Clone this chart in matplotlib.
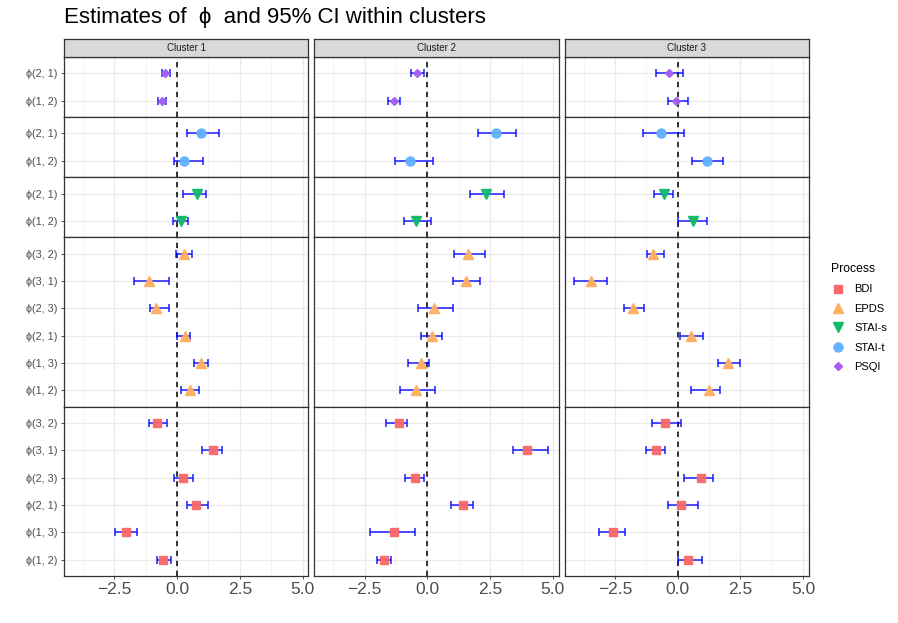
import matplotlib
matplotlib.use("Agg")
import matplotlib.pyplot as plt
from matplotlib.lines import Line2D

plt.rcParams['font.family'] = ['Liberation Sans', 'DejaVu Sans']

# ---- data ----
clusters = ["Cluster 1", "Cluster 2", "Cluster 3"]
labels_2 = ["ϕ(1, 2)", "ϕ(2, 1)"]
labels_6 = ["ϕ(1, 2)", "ϕ(1, 3)", "ϕ(2, 1)", "ϕ(2, 3)", "ϕ(3, 1)", "ϕ(3, 2)"]

# one list per cluster, in label order (bottom to top)
psqi_est = [[-0.59, -0.48], [-1.33, -0.41], [-0.05, -0.35]]
psqi_lo = [[-0.76, -0.60], [-1.56, -0.67], [-0.39, -0.87]]
psqi_hi = [[-0.43, -0.28], [-1.07, -0.13], [0.40, 0.20]]

stait_est = [[0.27, 0.97], [-0.68, 2.72], [1.16, -0.65]]
stait_lo = [[-0.11, 0.41], [-1.27, 2.00], [0.57, -1.40]]
stait_hi = [[1.03, 1.69], [0.24, 3.52], [1.79, 0.27]]

stais_est = [[0.16, 0.81], [-0.45, 2.32], [0.60, -0.55]]
stais_lo = [[-0.16, 0.25], [-0.92, 1.68], [0.03, -0.96]]
stais_hi = [[0.44, 1.16], [0.15, 3.04], [1.16, -0.17]]

epds_est = [[0.51, 0.97, 0.31, -0.83, -1.12, 0.28],
            [-0.44, -0.27, 0.17, 0.27, 1.55, 1.63],
            [1.25, 2.01, 0.55, -1.77, -3.47, -0.97]]
epds_lo = [[0.15, 0.69, 0.00, -1.07, -1.73, -0.04],
           [-1.08, -0.76, -0.25, -0.36, 1.04, 1.05],
           [0.55, 1.60, 0.11, -2.15, -4.11, -1.24]]
epds_hi = [[0.87, 1.23, 0.53, -0.33, -0.33, 0.61],
           [0.32, 0.08, 0.57, 1.01, 2.09, 2.29],
           [1.67, 2.47, 1.01, -1.36, -2.83, -0.55]]

bdi_est = [[-0.55, -2.05, 0.77, 0.23, 1.45, -0.81],
           [-1.72, -1.31, 1.41, -0.51, 3.96, -1.11],
           [0.43, -2.59, 0.13, 0.91, -0.87, -0.52]]
bdi_lo = [[-0.80, -2.48, 0.41, -0.12, 1.00, -1.12],
          [-2.00, -2.29, 0.95, -0.88, 3.43, -1.64],
          [0.03, -3.15, -0.40, 0.24, -1.27, -1.04]]
bdi_hi = [[-0.23, -1.60, 1.23, 0.64, 1.80, -0.40],
          [-1.45, -0.51, 1.80, -0.15, 4.81, -0.79],
          [0.96, -2.08, 0.79, 1.41, -0.52, 0.13]]

# rows top to bottom
rows = [
    ("PSQI", labels_2, psqi_est, psqi_lo, psqi_hi, "D", "#A65EF2", 4.5),
    ("STAI-t", labels_2, stait_est, stait_lo, stait_hi, "o", "#61B2FF", 6.5),
    ("STAI-s", labels_2, stais_est, stais_lo, stais_hi, "v", "#0FBA68", 7.5),
    ("EPDS", labels_6, epds_est, epds_lo, epds_hi, "^", "#FDAE61", 7.5),
    ("BDI", labels_6, bdi_est, bdi_lo, bdi_hi, "s", "#F96868", 6),
]
legend_order = ["BDI", "EPDS", "STAI-s", "STAI-t", "PSQI"]

W, H = 898, 623
fig = plt.figure(figsize=(W / 100, H / 100), dpi=100)
gs = fig.add_gridspec(5, 3, left=64 / W, right=809 / W, top=1 - 57 / H, bottom=1 - 576 / H,
                      hspace=0, wspace=6 / 244.3,
                      height_ratios=[len(r[1]) + 0.2 for r in rows])

grey_txt = "#4D4D4D"
border = "#333333"
axes = {}
for r, (name, labs, est, lo, hi, mk, col, ms) in enumerate(rows):
    y = list(range(len(labs)))
    for c in range(3):
        ax = fig.add_subplot(gs[r, c])
        axes[(r, c)] = ax
        ax.set_xlim(-4.5, 5.23)
        ax.set_ylim(-0.6, len(labs) - 0.4)
        ax.set_xticks([-2.5, 0, 2.5, 5.0])
        ax.set_xticks([-3.75, -1.25, 1.25, 3.75], minor=True)
        ax.set_xticklabels(["\u22122.5", "0.0", "2.5", "5.0"])
        ax.set_yticks(y)
        ax.set_yticklabels(labs)
        ax.grid(True, which="major", color="#EBEBEB", lw=0.9, zorder=0)
        ax.grid(True, which="minor", axis="x", color="#F2F2F2", lw=0.6, zorder=0)
        ax.set_axisbelow(True)
        for s in ax.spines.values():
            s.set_color(border)
            s.set_linewidth(0.9)
        ax.tick_params(which="minor", length=0)
        ax.tick_params(axis="y", length=2.5, width=0.6, color=border,
                       labelsize=7.8, labelcolor=grey_txt, pad=2)
        ax.tick_params(axis="x", length=2.5, width=0.6, color=border,
                       labelsize=12.5, labelcolor=grey_txt, pad=2)
        if c > 0:
            ax.tick_params(axis="y", left=False, labelleft=False)
        if r < len(rows) - 1:
            ax.tick_params(axis="x", bottom=False, labelbottom=False)

        ax.axvline(0, color="black", ls=(0, (3.5, 3)), lw=1.1, zorder=2)
        e, l, h = est[c], lo[c], hi[c]
        ax.errorbar(e, y, xerr=[[a - b for a, b in zip(e, l)], [b - a for a, b in zip(e, h)]],
                    fmt="none", ecolor="#0A0AFF", elinewidth=1.2, capsize=2.6,
                    capthick=1.2, alpha=0.85, zorder=3)
        ax.plot(e, y, ls="none", marker=mk, color=col, ms=ms, mec=col, alpha=0.95, zorder=4)

# facet strips
for c, name in enumerate(clusters):
    bb = axes[(0, c)].get_position()
    sax = fig.add_axes([bb.x0, bb.y1, bb.width, 18.5 / H])
    sax.set_facecolor("#D9D9D9")
    sax.set_xticks([])
    sax.set_yticks([])
    for s in sax.spines.values():
        s.set_color(border)
        s.set_linewidth(0.9)
    sax.text(0.5, 0.5, name, ha="center", va="center", fontsize=7, color="#1A1A1A",
             transform=sax.transAxes)

fig.text(64 / W, 1 - 17.5 / H, "Estimates of  ϕ  and 95% CI within clusters",
         fontsize=16, ha="left", va="center")

# legend
lookup = {r[0]: r for r in rows}
handles = [Line2D([], [], ls="none", marker=lookup[n][5], color=lookup[n][6],
                  ms=lookup[n][7]) for n in legend_order]
fig.legend(handles, legend_order, title="Process", loc="upper left",
           bbox_to_anchor=(821 / W, 1 - 253 / H), frameon=False, fontsize=8,
           title_fontsize=8.8, handlelength=1.2, handletextpad=0.9,
           labelspacing=0.85, alignment="left")

fig.savefig("out.png", dpi=100)
